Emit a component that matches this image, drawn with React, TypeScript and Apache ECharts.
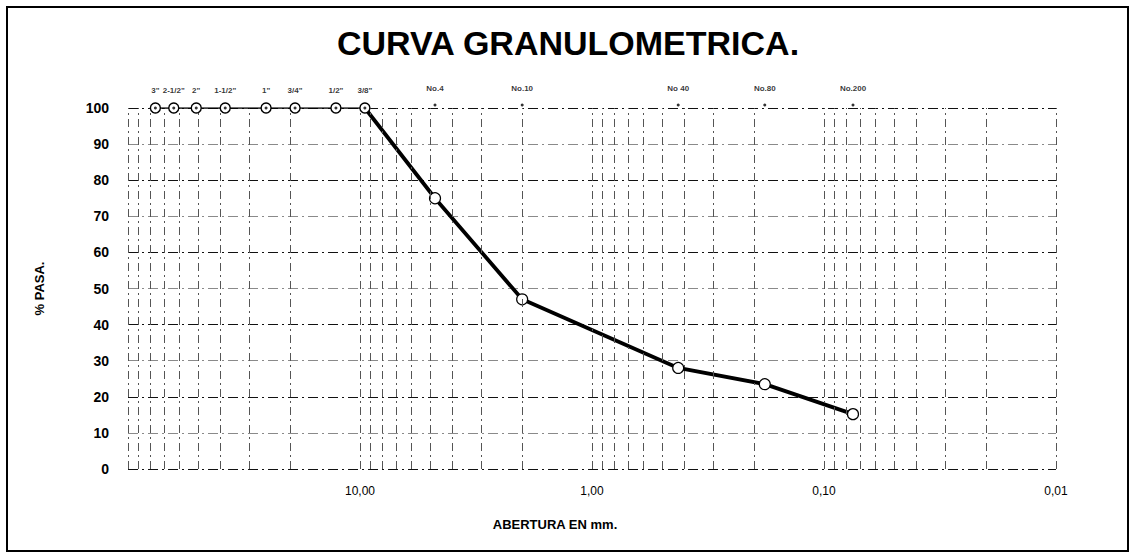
import React, { useEffect, useRef } from 'react';
import * as echarts from 'echarts';

// Tamices (nombre y abertura en mm) y porcentaje que pasa
const sieveNames = ['3"', '2-1/2"', '2"', '1-1/2"', '1"', '3/4"', '1/2"', '3/8"', 'No.4', 'No.10', 'No 40', 'No.80', 'No.200'];
const sieveOpenings = [76.2, 63.5, 50.8, 38.1, 25.4, 19.05, 12.7, 9.525, 4.75, 2.0, 0.425, 0.18, 0.075];
const percentPassing = [100, 100, 100, 100, 100, 100, 100, 100, 75, 47, 28, 23.5, 15.2];

// Papel semilogarítmico: décadas y subdivisiones 1..9
const gridDecades = [10, 1, 0.1, 0.01];
const gridSubdivisions = [1, 2, 3, 4, 5, 6, 7, 8, 9];
const xTickLabels = ['10,00', '1,00', '0,10', '0,01'];

const FONT = '"Liberation Sans", Arial, Helvetica, sans-serif';

export default function App() {
  const ref = useRef<HTMLDivElement>(null);

  useEffect(() => {
    if (!ref.current) return;
    const chart = echarts.init(ref.current, undefined, { renderer: 'svg' });

    const points = sieveOpenings.map((x, i) => [x, percentPassing[i]]);
    // tramo horizontal (100 %) y tramo descendente de la curva
    const flatEnd = percentPassing.lastIndexOf(100);
    const flatPart = points.slice(0, flatEnd + 1);
    const fallPart = points.slice(flatEnd);

    const gridValues: number[] = [100];
    gridDecades.forEach((d) => gridSubdivisions.forEach((k) => gridValues.push(k * d)));

    const option: echarts.EChartsOption = {
      animation: false,
      backgroundColor: '#ffffff',
      textStyle: { fontFamily: FONT },
      grid: { left: 128, right: 79, top: 108, bottom: 89, containLabel: false },
      xAxis: {
        type: 'log',
        logBase: 10,
        inverse: true,
        min: 0.01,
        max: 100,
        axisLine: { show: false },
        axisTick: { show: false },
        splitLine: { show: false },
        axisLabel: {
          color: '#000',
          fontSize: 12,
          fontFamily: FONT,
          margin: 16,
          formatter: (v: number) => {
            const i = gridDecades.findIndex((d) => Math.abs(d - v) / d < 1e-6);
            return i >= 0 ? xTickLabels[i] : '';
          },
        },
      },
      yAxis: {
        type: 'value',
        min: 0,
        max: 100,
        interval: 10,
        name: '% PASA.',
        nameLocation: 'middle',
        nameRotate: 90,
        nameGap: 82,
        nameTextStyle: { fontSize: 13, fontWeight: 'bold', color: '#000', fontFamily: FONT },
        axisLine: { show: false },
        axisTick: { show: false },
        axisLabel: { color: '#000', fontSize: 14, fontWeight: 'bold', margin: 19, fontFamily: FONT },
        splitLine: {
          show: true,
          lineStyle: { color: ['#111', '#8a8a8a'], width: 1, type: [10, 4, 2, 4] },
        },
      },
      graphic: [
        {
          type: 'rect',
          shape: { x: 7, y: 7, width: 1121, height: 544 },
          style: { fill: 'none', stroke: '#000', lineWidth: 2 },
          silent: true,
        },
        {
          type: 'text',
          x: 568,
          y: 43,
          style: {
            text: 'CURVA GRANULOMETRICA.',
            fontSize: 34,
            fontWeight: 'bold',
            fontFamily: FONT,
            fill: '#000',
            align: 'center',
            verticalAlign: 'middle',
          },
          silent: true,
        },
        {
          type: 'text',
          x: 555,
          y: 524,
          style: {
            text: 'ABERTURA EN mm.',
            fontSize: 13,
            fontWeight: 'bold',
            fontFamily: FONT,
            fill: '#000',
            align: 'center',
            verticalAlign: 'middle',
          },
          silent: true,
        },
      ],
      series: [
        {
          // líneas verticales del papel logarítmico
          type: 'scatter',
          silent: true,
          z: 1,
          symbolSize: 0,
          data: [[100, 0]],
          markLine: {
            silent: true,
            symbol: ['none', 'none'],
            label: { show: false },
            lineStyle: { color: '#555', width: 1, type: [8, 4, 2, 4] },
            emphasis: { disabled: true },
            data: gridValues.map((v) => ({ xAxis: v })),
          },
        },
        {
          // nombres de los tamices sobre la línea de 100 %
          type: 'scatter',
          silent: true,
          z: 3,
          data: sieveOpenings.map((x) => [x, 100]),
          symbol: 'circle',
          symbolSize: (_v: any, p: any) => (p.dataIndex > flatEnd ? 3 : 0),
          symbolOffset: [0, -3],
          itemStyle: { color: '#000' },
          label: {
            show: true,
            position: 'top',
            distance: 11,
            fontSize: 8,
            fontWeight: 'bold',
            color: '#000',
            fontFamily: FONT,
            formatter: (p: any) => sieveNames[p.dataIndex],
          },
        },
        {
          type: 'line',
          z: 5,
          data: flatPart,
          lineStyle: { color: '#000', width: 1.6 },
          symbol: 'circle',
          symbolSize: 10,
          itemStyle: { color: '#fff', borderColor: '#000', borderWidth: 1.4 },
        },
        {
          // punto central de los tamices en pulgadas
          type: 'scatter',
          z: 6,
          silent: true,
          data: flatPart,
          symbol: 'circle',
          symbolSize: 3,
          itemStyle: { color: '#000' },
        },
        {
          type: 'line',
          z: 4,
          data: fallPart,
          lineStyle: { color: '#000', width: 3.8 },
          symbol: 'circle',
          symbolSize: (_v: any, p: any) => (p.dataIndex === 0 ? 0 : 11),
          itemStyle: { color: '#fff', borderColor: '#000', borderWidth: 1.2 },
        },
      ],
    };

    chart.setOption(option);
    return () => chart.dispose();
  }, []);

  return (
    <div
      ref={ref}
      style={{ position: 'absolute', left: 0, top: 0, width: 1135, height: 558, background: '#fff' }}
    />
  );
}
